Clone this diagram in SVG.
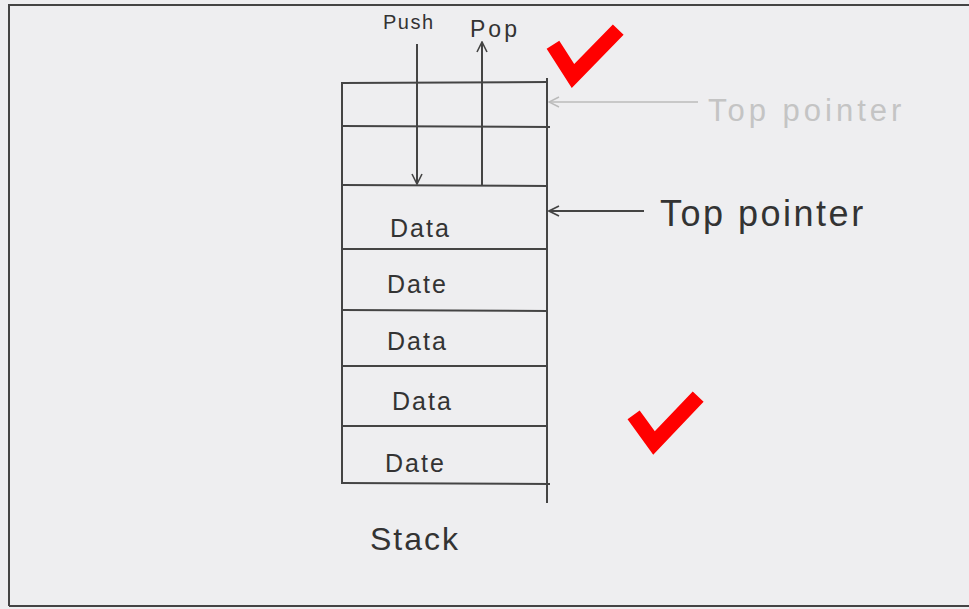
<svg xmlns="http://www.w3.org/2000/svg" width="969" height="609" viewBox="0 0 969 609">
<style>
.ln{stroke:#444;stroke-width:2;fill:none}
.txt{font-family:"Liberation Sans",Arial,sans-serif;fill:#333}
.cell{font-size:25px;letter-spacing:2px}
.faint{font-family:"Liberation Sans",Arial,sans-serif;fill:#c4c4c4}
.tick{stroke:#ff0000;stroke-width:15;fill:none;stroke-linejoin:miter;stroke-linecap:square}
</style>
<defs>
<marker id="ah" viewBox="0 0 12 12" refX="11" refY="6" markerWidth="12" markerHeight="12" markerUnits="userSpaceOnUse" orient="auto">
<path d="M1,1 L11,6 L1,11" fill="none" stroke="#444" stroke-width="1.6"/>
</marker>
<marker id="ahf" viewBox="0 0 12 12" refX="11" refY="6" markerWidth="12" markerHeight="12" markerUnits="userSpaceOnUse" orient="auto">
<path d="M1,1 L11,6 L1,11" fill="none" stroke="#bbb" stroke-width="1.4"/>
</marker>
</defs>
<rect width="969" height="609" fill="#eeeef0"/>
<g id="frame">
<path d="M9,606 L9,5 L969,5" class="ln" stroke-width="2.5"/>
<line x1="9" y1="606" x2="969" y2="606" class="ln"/>
</g>
<g id="stack">
<line x1="342" y1="82" x2="342" y2="484" class="ln"/>
<line x1="547" y1="78" x2="547" y2="503" class="ln"/>
<line x1="342" y1="83" x2="548" y2="82" class="ln"/>
<line x1="342" y1="126" x2="550" y2="127" class="ln"/>
<line x1="342" y1="185" x2="548" y2="186" class="ln"/>
<line x1="342" y1="249" x2="548" y2="249" class="ln"/>
<line x1="342" y1="310" x2="548" y2="311" class="ln"/>
<line x1="342" y1="366" x2="548" y2="366" class="ln"/>
<line x1="342" y1="426" x2="548" y2="426" class="ln"/>
<line x1="342" y1="483" x2="550" y2="484" class="ln"/>
</g>
<g id="cell1"><text class="txt cell" x="390" y="237">Data</text></g>
<g id="cell2"><text class="txt cell" x="387" y="293">Date</text></g>
<g id="cell3"><text class="txt cell" x="387" y="350">Data</text></g>
<g id="cell4"><text class="txt cell" x="392" y="410">Data</text></g>
<g id="cell5"><text class="txt cell" x="385" y="472">Date</text></g>
<g id="stack-label"><text class="txt" x="370" y="550" font-size="32" letter-spacing="2">Stack</text></g>
<g id="push-label"><text class="txt" x="383" y="29" font-size="20" letter-spacing="1.5">Push</text></g>
<g id="pop-label"><text class="txt" x="470" y="37" font-size="23" letter-spacing="3">Pop</text></g>
<g id="top-pointer-label"><text class="txt" x="660" y="226" font-size="36" letter-spacing="2.5">Top pointer</text></g>
<g id="old-top-pointer-label"><text class="faint" x="708" y="121" font-size="31" letter-spacing="4">Top pointer</text></g>
<g id="connectors">
<line x1="417" y1="44" x2="417" y2="184" class="ln" stroke-width="1.8" marker-end="url(#ah)"/>
<line x1="482" y1="185" x2="482" y2="42" class="ln" stroke-width="1.8" marker-end="url(#ah)"/>
<line x1="644" y1="211" x2="549" y2="211" class="ln" stroke-width="1.8" marker-end="url(#ah)"/>
<line x1="698" y1="102" x2="549" y2="102" stroke="#bbb" stroke-width="1.6" marker-end="url(#ahf)"/>
</g>
<g id="tick1"><polyline class="tick" points="557,51 573,76 613,35"/></g>
<g id="tick2"><polyline class="tick" points="638,421 654,443 693,402"/></g>
</svg>
